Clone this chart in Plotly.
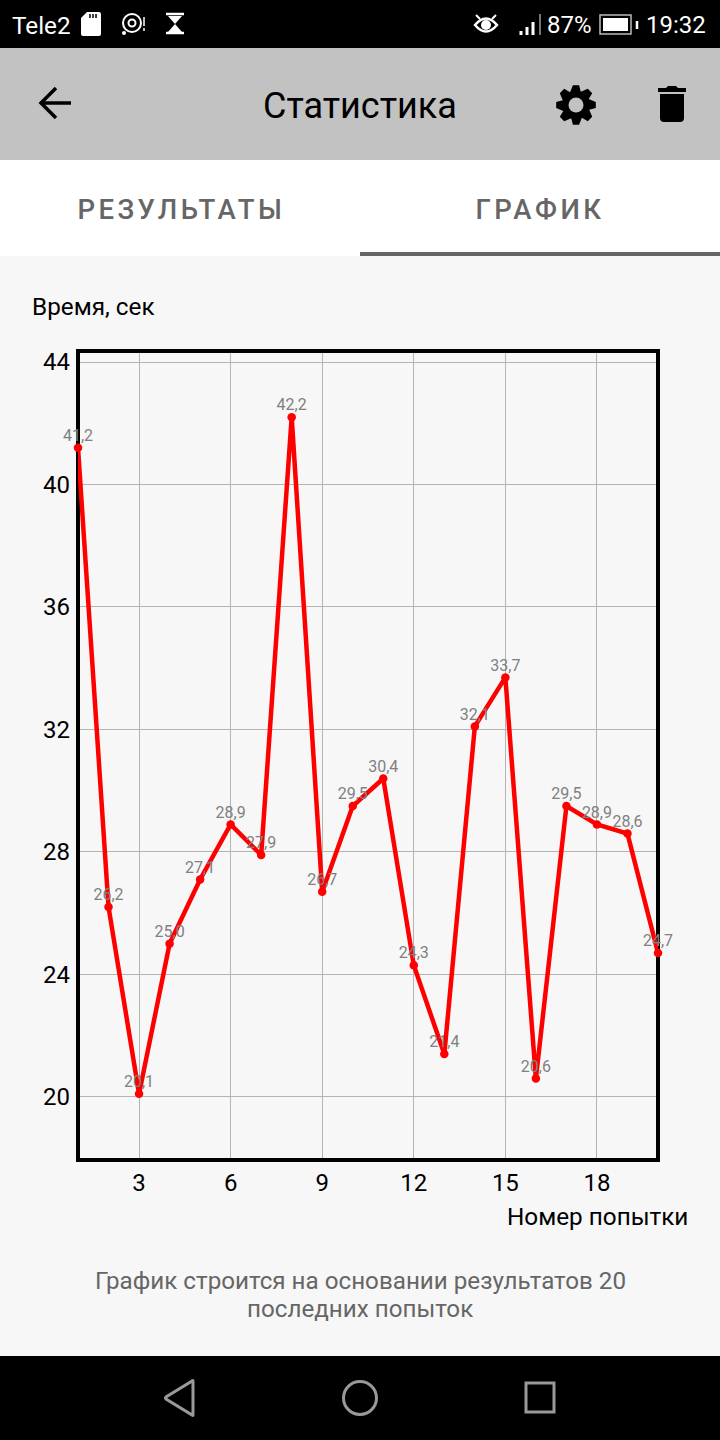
import math
import plotly.graph_objects as go

# 1. DATA
attempts = list(range(1, 21))
times = [41.2, 26.2, 20.1, 25.0, 27.1, 28.9, 27.9, 42.2, 26.7, 29.5,
         30.4, 24.3, 21.4, 32.1, 33.7, 20.6, 29.5, 28.9, 28.6, 24.7]
x_ticks = [3, 6, 9, 12, 15, 18]
y_ticks = [20, 24, 28, 32, 36, 40, 44]

FONT = "Roboto"
W, H = 720, 1440
X_RANGE = [1, 20]
Y_RANGE = [17.94, 44.36]

fig = go.Figure()

# invisible trace so the full-screen axes (x/y, in screen pixels) exist for the phone UI
fig.add_trace(go.Scatter(x=[0], y=[0], mode="markers", marker=dict(opacity=0),
                         hoverinfo="skip", showlegend=False))

# 2. THE CHART
fig.add_trace(go.Scatter(
    x=attempts, y=times, xaxis="x2", yaxis="y2",
    mode="lines+markers",
    line=dict(color="#ff0000", width=4.5),
    marker=dict(color="#ff0000", size=8.5),
    cliponaxis=False,
    showlegend=False,
))
# values in their own trace: the hidden marker size sets how far above the point they sit
fig.add_trace(go.Scatter(
    x=attempts, y=times, xaxis="x2", yaxis="y2",
    mode="markers+text",
    marker=dict(size=3, opacity=0),
    text=[f"{t:.1f}".replace(".", ",") for t in times],
    textposition="top center",
    textfont=dict(family=FONT, size=16, color="#808080"),
    cliponaxis=False,
    showlegend=False,
))

# black frame sits over the grid but under the line; the "between" one gets clipped to
# the plot area so a second copy below gives the outer half of the stroke
fig.add_shape(type="rect", xref="x2", yref="y2", x0=X_RANGE[0], x1=X_RANGE[1], y0=Y_RANGE[0], y1=Y_RANGE[1],
              line=dict(color="#000000", width=4), layer="between")
fig.add_shape(type="rect", x0=78, x1=658, y0=351, y1=1160,
              line=dict(color="#000000", width=4), layer="below")


# 3. PHONE UI
def rect(x0, y0, x1, y1, color):
    fig.add_shape(type="rect", x0=x0, y0=y0, x1=x1, y1=y1, fillcolor=color,
                  line_width=0, layer="below")


def path(d, fill=None, stroke=None, width=0, rule="nonzero"):
    fig.add_shape(type="path", path=d, fillcolor=fill or "rgba(0,0,0,0)",
                  line=dict(color=stroke or "rgba(0,0,0,0)", width=width),
                  fillrule=rule, layer="above")


def circle(cx, cy, r, fill=None, stroke=None, width=0):
    fig.add_shape(type="circle", x0=cx - r, y0=cy - r, x1=cx + r, y1=cy + r,
                  fillcolor=fill or "rgba(0,0,0,0)",
                  line=dict(color=stroke or "rgba(0,0,0,0)", width=width), layer="above")


def label(x, y, text, size, color="#000000", anchor="center", weight=400):
    fig.add_annotation(x=x, y=y, text=text, showarrow=False, xanchor=anchor, yanchor="middle",
                       font=dict(family=FONT, size=size, color=color, weight=weight))


rect(0, 0, 720, 48, "#000000")
rect(0, 48, 720, 160, "#c2c2c2")
rect(0, 160, 720, 256, "#ffffff")
rect(360, 252, 720, 256, "#666666")
rect(0, 1356, 720, 1440, "#000000")

# status bar
label(10, 25, "Tele2", 24.3, "#ffffff", "left")
label(545, 25, "87%", 24, "#ffffff", "left")
label(644, 25, "19:32", 24, "#ffffff", "left")
path("M87 12 L99 12 Q101 12 101 14 L101 34 Q101 36 99 36 L83 36 Q81 36 81 34 L81 18 Z", fill="#ffffff")
path("M90 14 V18 M93 14 V18 M96 14 V18", stroke="#000000", width=1.5)
circle(132, 23, 9, stroke="#ffffff", width=2)
circle(132, 23, 3.5, stroke="#ffffff", width=2)
circle(124, 33, 2, fill="#ffffff")
path("M144 17 V26 M144 28 V31", stroke="#ffffff", width=1.5)
path("M166 14 H184 M166 33 H184", stroke="#ffffff", width=2.5)
path("M168 16 H182 L175 24 L182 32 H168 L175 24 Z", fill="#ffffff")
path("M475 25 Q486 12 497 25 Q486 38 475 25 Z", stroke="#ffffff", width=2.5)
circle(486, 25, 5, fill="#ffffff")
path("M476 15 L480 19 M496 15 L492 19", stroke="#ffffff", width=2)
path("M521 31 V35 M527 27 V35 M533 22 V35", stroke="#ffffff", width=3)
path("M540 14 V35", stroke="#777777", width=2)
path("M600 15 H631 V34 H600 Z", stroke="#bbbbbb", width=1.5)
path("M603 18 H628 V31 H603 Z", fill="#ffffff")
path("M637 21 V29", stroke="#ffffff", width=2.5)

# header
label(360, 106, "Статистика", 36)
path("M71 103 H41 M56 88 L41 103 L56 118", stroke="#000000", width=3.5)
gear = []
for i in range(8):
    a = math.radians(45 * i - 90)
    for r, da in ((20, -9), (20, 9), (14, 20)):
        gear.append((576 + r * math.cos(a + math.radians(da)), 105 + r * math.sin(a + math.radians(da))))
path("M" + " L".join(f"{px:.1f} {py:.1f}" for px, py in gear) + " Z", fill="#000000")
circle(576, 105, 7.5, fill="#c2c2c2")
path("M660 94 H684 V118 Q684 122 680 122 H664 Q660 122 660 118 Z", fill="#000000")
path("M658 88 H666 L668 86 H676 L678 88 H686 V92 H658 Z", fill="#000000")

# tabs
label(181, 209, "РЕЗУЛЬТАТЫ", 27.5, "#666666", weight=500)
label(540, 209, "ГРАФИК", 27.5, "#666666", weight=500)

# chart captions
label(30, 306, "Время, сек", 24.3, "#000000", "left")
label(690, 1216, "Номер попытки", 24.3, "#000000", "right")
label(360, 1281, "График строится на основании результатов 20", 24.2, "#666666")
label(360, 1309, "последних попыток", 24.2, "#666666")

# nav bar
path("M193 1398 L193 1381 Q193 1380 192 1381 L166 1397 Q165 1398 166 1399 L192 1415 Q193 1416 193 1415 Z",
     stroke="#999999", width=3)
circle(360, 1398, 16.5, stroke="#999999", width=3)
path("M526 1383 H554 V1412 H526 Z", stroke="#999999", width=3)

# 4. LAYOUT
fig.update_layout(
    width=W, height=H,
    margin=dict(l=0, r=0, t=0, b=0, autoexpand=False),
    paper_bgcolor="#f7f7f7",
    plot_bgcolor="rgba(0,0,0,0)",
    showlegend=False,
    font=dict(family=FONT),
    xaxis=dict(domain=[0, 1], range=[0, W], visible=False, fixedrange=True),
    yaxis=dict(domain=[0, 1], range=[H, 0], visible=False, fixedrange=True),
    xaxis2=dict(
        anchor="y2",
        domain=[78 / W, 658 / W],
        range=X_RANGE,
        tickvals=x_ticks,
        showgrid=True, gridcolor="#b4b4b4", gridwidth=1,
        zeroline=False, ticks="", showline=False,
        tickfont=dict(family=FONT, size=24, color="#000000"),
        ticklabelstandoff=6,
    ),
    yaxis2=dict(
        anchor="x2",
        domain=[1 - 1160 / H, 1 - 351 / H],
        range=Y_RANGE,
        tickvals=y_ticks,
        showgrid=True, gridcolor="#b4b4b4", gridwidth=1,
        zeroline=False, ticks="", showline=False,
        tickfont=dict(family=FONT, size=24, color="#000000"),
        ticklabelstandoff=7,
    ),
)

# letter spacing of the tab titles has no layout option
post = """
document.body.style.margin = '0';
document.querySelectorAll('.annotation-text').forEach(function (t) {
  if (t.textContent === 'РЕЗУЛЬТАТЫ' || t.textContent === 'ГРАФИК') {
    t.style.letterSpacing = '3.5px';
  }
});
"""
fig.write_html("out.html", post_script=post, config={"displayModeBar": False})
